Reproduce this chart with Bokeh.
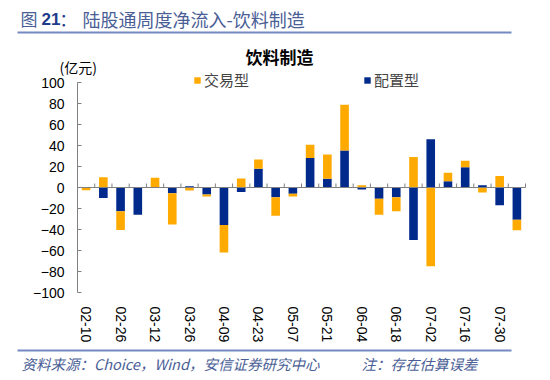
import numpy as np
from bokeh.plotting import figure
from bokeh.models import (Label, FixedTicker, Range1d, Legend, LegendItem,
                          LinearAxis)
from bokeh.embed import file_html
from bokeh.resources import INLINE

# ---- data ----
dates = ["02-10", "02-19", "02-26", "03-05", "03-12", "03-19", "03-26", "04-02",
         "04-09", "04-16", "04-23", "04-30", "05-07", "05-14", "05-21", "05-28",
         "06-04", "06-11", "06-18", "06-25", "07-02", "07-09", "07-16", "07-23",
         "07-30", "08-06"]
peizhi = [0.0, -10, -22.5, -26, 0.0, -5.4, 1.3, -6.7,
          -35.8, -4.4, 17.8, -9.2, -6, 28, 8.3, 35.2,
          -1.9, -10.8, -9.2, -50, 46, 6, 19.4, 2.2,
          -16.8, -30.8]
jiaoyi = [-2.5, 9.8, -18, 0.0, 9.2, -29.8, -2.8, -1.9,
          -26.2, 8.6, 8.9, -17.8, -2.5, 12.6, 23.1, 43.6,
          2.2, -15.2, -13.3, 29, -75, 8, 6, -4.7,
          11, -9.8]
y_ticks = list(range(-100, 101, 20))
y_min, y_max = -100, 100
label_every = 2

NAVY = "#00298C"
ORANGE = "#FFAA00"
DARK_BLUE = "#1E3A8A"
GREY_BLUE = "#4A5E96"
RULE_BLUE = "#7489C4"
AXIS_GREY = "#808080"
CJK = "Noto Sans CJK SC"
LAT = "Liberation Sans"

# ---- pixel geometry (canvas px) ----
W, H = 540, 376
OFF = 1                                  # page offset of the canvas
PX_L, PX_R = 78 - OFF, 526 - OFF         # category range edges
PX_T, PX_B = 83 - OFF, 293 - OFF         # y_max / y_min

n = len(dates)
x_lo, x_hi = -0.5, n - 0.5
sx = (PX_R - PX_L) / (x_hi - x_lo)
sy = (PX_B - PX_T) / (y_max - y_min)
xr = Range1d(x_lo - PX_L / sx, x_hi + (W - PX_R) / sx)
yr = Range1d(y_min - (H - PX_B) / sy, y_max + PX_T / sy)


def dx(px):
    return xr.start + px / sx


def dy(py):
    return yr.end - py / sy


idx = np.arange(n)
nav = np.array(peizhi, dtype=float)
ora = np.array(jiaoyi, dtype=float)
same_sign = np.sign(ora) == np.sign(nav)
ora_bottom = np.where(same_sign, nav, 0.0)
ora_top = ora_bottom + ora

p = figure(width=W, height=H, output_backend="svg", toolbar_location=None,
           x_range=xr, y_range=yr, x_axis_type=None, y_axis_type=None,
           min_border=0)
p.outline_line_color = None
p.grid.visible = False
p.background_fill_color = "white"
p.border_fill_color = "white"

r_nav = p.vbar(x=idx, bottom=0, top=nav, width=0.5, fill_color=NAVY, line_color=None)
r_ora = p.vbar(x=idx, bottom=ora_bottom, top=ora_top, width=0.5,
               fill_color=ORANGE, line_color=None)

# zero line with small category ticks
p.segment(x0=[x_lo], x1=[x_hi], y0=[0], y1=[0], line_color=AXIS_GREY, line_width=1)
bounds = np.arange(n + 1) - 0.5
p.segment(x0=bounds, x1=bounds, y0=0, y1=4 / sy, line_color=AXIS_GREY, line_width=1)

# y axis
ya = LinearAxis(fixed_location=x_lo, bounds=(y_min, y_max),
                ticker=FixedTicker(ticks=y_ticks))
ya.major_tick_in = 4
ya.major_tick_out = 0
ya.minor_tick_line_color = None
ya.axis_line_color = AXIS_GREY
ya.major_tick_line_color = AXIS_GREY
ya.major_label_text_font = LAT
ya.major_label_text_font_size = "14px"
ya.major_label_text_color = "black"
ya.major_label_standoff = 13
p.add_layout(ya, "left")

# x axis
tick_idx = list(range(0, n, label_every))
xa = LinearAxis(fixed_location=y_min, bounds=(x_lo, x_hi),
                ticker=FixedTicker(ticks=tick_idx))
xa.major_label_overrides = {int(i): dates[i] for i in tick_idx}
xa.major_label_orientation = "vertical"
xa.axis_line_color = None
xa.major_tick_line_color = None
xa.minor_tick_line_color = None
xa.major_label_text_font = LAT
xa.major_label_text_font_size = "14px"
xa.major_label_text_color = "black"
xa.major_label_standoff = 8
p.add_layout(xa, "below")

# legend (location in px from frame bottom-left = canvas bottom-left)
leg_cy = 81 - OFF
legend = Legend(items=[LegendItem(label="交易型", renderers=[r_ora]),
                       LegendItem(label="配置型", renderers=[r_nav])],
                orientation="horizontal", location=(194 - OFF, H - leg_cy - 8 - 2),
                padding=0, margin=0, spacing=114, glyph_width=8, glyph_height=8,
                label_standoff=3, label_height=16,
                label_text_font=CJK, label_text_font_size="15px",
                border_line_color=None, background_fill_alpha=0)
p.add_layout(legend, "center")


# texts (canvas px)
def lab(text, x, y, font=CJK, size="14px", color="black", style="normal",
        align="left"):
    p.add_layout(Label(text=text, x=x - OFF, y=y - OFF, x_units="canvas",
                       y_units="canvas", text_font=font, text_font_size=size,
                       text_color=color, text_font_style=style,
                       text_align=align, text_baseline="middle"))


lab("图", 21, 19, size="17px", color=GREY_BLUE)
lab("21", 42, 19, font=LAT, size="17px", color=DARK_BLUE, style="bold")
lab("：", 60, 19, size="17px", color=DARK_BLUE)
lab("陆股通周度净流入-饮料制造", 83, 19, size="18px", color=GREY_BLUE)
lab("饮料制造", 280, 57, size="17px", style="bold", align="center")
lab("(亿元)", 60, 67, size="14px")
lab("资料来源：Choice，Wind，安信证券研究中心", 22, 364, size="14.5px",
    color=GREY_BLUE, style="italic")
lab("注：存在估算误差", 362, 364, size="14.5px", color=GREY_BLUE, style="italic")

# horizontal rules under the heading and above the source line
for yy in (33, 351):
    p.segment(x0=[dx(18 - OFF)], x1=[dx(512 - OFF)], y0=[dy(yy - OFF)],
              y1=[dy(yy - OFF)], line_color=RULE_BLUE, line_width=2)

open("out.html", "w").write(file_html(p, INLINE))
